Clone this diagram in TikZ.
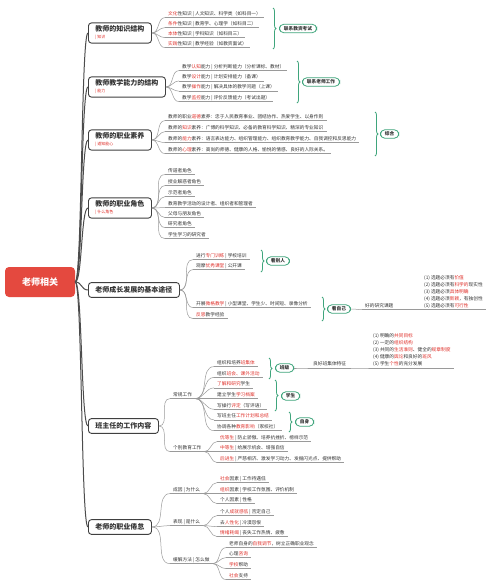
\documentclass[tikz,border=0pt]{standalone}
\usepackage{fontspec}
\setmainfont{Noto Sans CJK SC}
\usetikzlibrary{decorations.pathreplacing}
\definecolor{hl}{HTML}{E0322C}
\definecolor{gr}{HTML}{3FA57C}
\definecolor{ln}{HTML}{9A9A9A}
\definecolor{rootc}{HTML}{E4493F}
\definecolor{tx}{HTML}{333333}
\newcommand\rd[1]{{\color{hl}#1}}
\newcommand\itf{\fontsize{4.7}{5.6}\selectfont}
\newcommand\ttf{\fontsize{7}{8.5}\selectfont\bfseries}
\newcommand\sbt[1]{\\[-1.5pt]{\fontsize{4}{4.5}\selectfont\mdseries\color{hl}| #1}}
% item: name, underline-start x, text centre y, text
\newcommand\itm[4]{\node[itm] (#1) at (#2,{#3+3.6}) {#4};\draw[uline] (#1.south west) -- (#1.south east);}
\newcommand\cc[2]{\draw[conn] (#1) to[out=0,in=180] (#2.south west);}
\newcommand\mc[1]{\draw[mconn] (R.east) .. controls ([xshift=7pt]R.east) and ([xshift=-7pt]#1.west) .. (#1.west);}
\begin{document}
\begin{tikzpicture}[x=1pt,y=-1pt,
 itm/.style={anchor=south west, inner xsep=3pt, inner ysep=1.2pt, font=\itf, text=tx, text height=3.9pt, text depth=0.9pt},
 uline/.style={draw=ln, line width=0.5pt},
 conn/.style={draw=ln, line width=0.5pt},
 mbox/.style={draw=black!75, line width=0.9pt, rounded corners=3pt, fill=white, anchor=west, inner xsep=7pt, inner ysep=3pt, align=left, font=\ttf, text=tx},
 mconn/.style={draw=black!70, line width=1pt},
 root/.style={fill=rootc, rounded corners=4pt, text=white, minimum width=70pt, minimum height=30pt, font=\fontsize{9}{10}\selectfont\bfseries},
 sbox/.style={draw=gr, line width=0.8pt, rounded corners=4.5pt, fill=white, inner xsep=4.5pt, inner ysep=2pt, font=\itf\bfseries, text=tx, anchor=west},
 brc/.style={draw=gr, line width=0.8pt, decorate, decoration={brace, amplitude=3pt}},
 blk/.style={anchor=south west, inner xsep=3pt, inner ysep=1.2pt, align=left, font=\fontsize{4.7}{7}\selectfont, text=tx},
]
\useasboundingbox (0,0) rectangle (500,584);
\fill[white] (0,0) rectangle (500,584);

\node[root] (R) at (40,282) {老师相关};

% main boxes
\node[mbox] (B1) at (88,33) {教师的知识结构\sbt{知识}};
\node[mbox] (B2) at (88,87) {教师教学能力的结构\sbt{能力}};
\node[mbox] (B3) at (88,140) {教师的职业素养\sbt{道知能心}};
\node[mbox] (B4) at (88,208) {教师的职业角色\sbt{什么角色}};
\node[mbox, inner ysep=4pt] (B5) at (88,290) {老师成长发展的基本途径};
\node[mbox, inner ysep=4pt] (B6) at (88,426) {班主任的工作内容};
\node[mbox, inner ysep=4pt] (B7) at (88,527) {老师的职业倦怠};
\foreach \b in {B1,B2,B3,B4,B5,B6,B7} {\mc{\b}}

% B1
\itm{a1}{165}{14}{\rd{文化}性知识 | 人文知识、科学类（如科目一）}
\itm{a2}{165}{24}{\rd{条件}性知识 | 教育学、心理学（如科目二）}
\itm{a3}{165}{34}{\rd{本体}性知识 | 学科知识（如科目三）}
\itm{a4}{165}{44}{\rd{实践}性知识 | 教学经验（如教资面试）}
\foreach \c in {a1,a2,a3,a4} {\cc{B1.east}{\c}}
\draw[brc] (273,8) -- (273,49);
\node[sbox] (s1) at (279,28.5) {联系教资考试};

% B2
\itm{b1}{179}{67}{教学\rd{认知}能力 | 分析判断能力（分析课标、教材）}
\itm{b2}{179}{77.3}{教学\rd{设计}能力 | 计划安排能力（备课）}
\itm{b3}{179}{87.6}{教学\rd{操作}能力 | 解决具体的教学问题（上课）}
\itm{b4}{179}{98}{教学\rd{监控}能力 | 评价反馈能力（考试出题）}
\foreach \c in {b1,b2,b3,b4} {\cc{B2.east}{\c}}
\draw[brc] (297,61) -- (297,103);
\node[sbox] (s2) at (302,82) {联系老师工作};

% B3
\itm{c1}{165}{117}{教师的职业\rd{道德}素养：忠于人民教育事业、团结协作、热爱学生、以身作则}
\itm{c2}{165}{128}{教师的\rd{知识}素养：广博的科学知识、必备的教育科学知识、精深的专业知识}
\itm{c3}{165}{139}{教师的\rd{能力}素养：语言表达能力、组织管理能力、组织教育教学能力、自我调控和反思能力}
\itm{c4}{165}{150}{教师的\rd{心理}素养：高尚的师德、健康的人格、愉悦的情感、良好的人际关系。}
\foreach \c in {c1,c2,c3,c4} {\cc{B3.east}{\c}}
\draw[brc] (375,112) -- (375,156);
\node[sbox] (s3) at (380,134) {综合};

% B4
\itm{d1}{165}{171}{传道者角色}
\itm{d2}{165}{182}{授业解惑者角色}
\itm{d3}{165}{193}{示范者角色}
\itm{d4}{165}{204}{教育教学活动的设计者、组织者和管理者}
\itm{d5}{165}{214}{父母与朋友角色}
\itm{d6}{165}{224}{研究者角色}
\itm{d7}{165}{235}{学生学习的研究者}
\foreach \c in {d1,d2,d3,d4,d5,d6,d7} {\cc{B4.east}{\c}}

% B5
\itm{e1}{193}{256}{进行\rd{专门训练} | 学校培训}
\itm{e2}{193}{266}{观摩\rd{优秀课堂} | 公开课}
\itm{e3}{193}{304}{开展\rd{微格教学} | 小型课堂、学生少、时间短、录像分析}
\itm{e4}{193}{315}{\rd{反思}教学经验}
\foreach \c in {e1,e2,e3,e4} {\cc{B5.east}{\c}}
\draw[brc] (261,250) -- (261,272);
\node[sbox] (s4) at (266,261) {看别人};
\draw[brc] (322,297) -- (322,321);
\node[sbox] (s5) at (327,309) {看自己};
\itm{e5}{362}{306}{好的研究课题}
\cc{s5.east}{e5}
\node[blk] (e6) at (421,309.6) {(1) 选题必须有\rd{价值}\\(2) 选题必须有\rd{科学的}现实性\\(3) 选题必须\rd{具体明确}\\(4) 选题必须\rd{新颖}，有独创性\\(5) 选题必须有\rd{可行性}};
\draw[uline] (e6.south west) -- (e6.south east);
\cc{e5.south east}{e6}

% B6
\itm{f1}{170}{395}{常规工作}
\itm{f2}{170}{448}{个别教育工作}
\cc{B6.east}{f1}
\cc{B6.east}{f2}
\itm{g1}{214}{363}{组织和培养\rd{班集体}}
\itm{g2}{214}{373.7}{组织\rd{班会、课外活动}}
\itm{g3}{214}{384.3}{\rd{了解和研究}学生}
\itm{g4}{214}{395}{建立学生\rd{学习档案}}
\itm{g5}{214}{405.7}{写操行\rd{评定}（写评语）}
\itm{g6}{214}{416.3}{写班主任\rd{工作计划和总结}}
\itm{g7}{214}{427}{协调各种\rd{教育影响}（家校社）}
\foreach \c in {g1,g2,g3,g4,g5,g6,g7} {\cc{f1.south east}{\c}}
\draw[brc] (269,358) -- (269,379);
\node[sbox] (s6) at (275,368) {班级};
\draw[brc] (275,380) -- (275,411);
\node[sbox] (s7) at (281,396) {学生};
\draw[brc] (289,412) -- (289,432);
\node[sbox] (s8) at (295,422) {自身};
\itm{g8}{310}{364.4}{良好班集体特征}
\cc{s6.east}{g8}
\node[blk] (g9) at (370,368) {(1) 明确的\rd{共同目标}\\(2) 一定的\rd{组织结构}\\(3) 共同的\rd{生活准则}、健全的\rd{规章制度}\\(4) 健康的\rd{舆论}和良好的\rd{班风}\\(5) 学生\rd{个性}的充分发展};
\draw[uline] (g9.south west) -- (g9.south east);
\cc{g8.south east}{g9}
\itm{h1}{217}{438}{\rd{优等生} | 防止骄傲、培养抗挫折、榜样示范}
\itm{h2}{217}{448}{\rd{中等生} | 给展示机会、增强自信}
\itm{h3}{217}{459}{\rd{后进生} | 严慈相济、激发学习动力、发掘闪光点、提供帮助}
\foreach \c in {h1,h2,h3} {\cc{f2.south east}{\c}}

% B7
\itm{k1}{170}{490}{成因 | 为什么}
\itm{k2}{170}{522}{表现 | 是什么}
\itm{k3}{170}{560}{缓解方法 | 怎么做}
\foreach \c in {k1,k2,k3} {\cc{B7.east}{\c}}
\itm{m1}{217}{479}{\rd{社会}因素 | 工作待遇低}
\itm{m2}{217}{490}{\rd{组织}因素 | 学校工作氛围、评价机制}
\itm{m3}{217}{500}{个人因素 | 性格}
\foreach \c in {m1,m2,m3} {\cc{k1.south east}{\c}}
\itm{n1}{217}{512}{个人\rd{成就感低} | 否定自己}
\itm{n2}{217}{523}{去\rd{人性化} | 冷漠怨恨}
\itm{n3}{217}{533}{\rd{情绪耗竭} | 丧失工作热情、疲惫}
\foreach \c in {n1,n2,n3} {\cc{k2.south east}{\c}}
\itm{p1}{226}{544}{老师自身的\rd{自我调节}，树立正确职业观念}
\itm{p2}{226}{554}{心理\rd{咨询}}
\itm{p3}{226}{565}{\rd{学校}帮助}
\itm{p4}{226}{576}{\rd{社会}支持}
\foreach \c in {p1,p2,p3,p4} {\cc{k3.south east}{\c}}
\end{tikzpicture}
\end{document}
